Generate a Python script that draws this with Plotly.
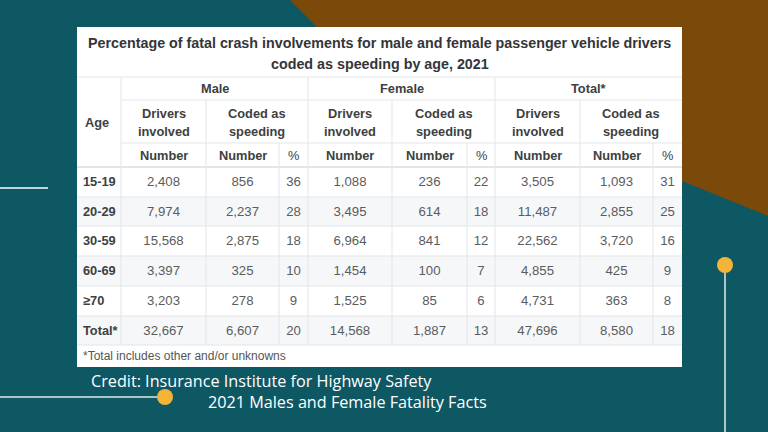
import plotly.graph_objects as go

# ---------------- data ----------------
title_lines = ["Percentage of fatal crash involvements for male and female passenger vehicle drivers",
               "coded as speeding by age, 2021"]
groups = ["Male", "Female", "Total*"]
age_groups = ["15-19", "20-29", "30-59", "60-69", "≥70", "Total*"]
male_drivers = ["2,408", "7,974", "15,568", "3,397", "3,203", "32,667"]
male_speeding = ["856", "2,237", "2,875", "325", "278", "6,607"]
male_pct = ["36", "28", "18", "10", "9", "20"]
female_drivers = ["1,088", "3,495", "6,964", "1,454", "1,525", "14,568"]
female_speeding = ["236", "614", "841", "100", "85", "1,887"]
female_pct = ["22", "18", "12", "7", "6", "13"]
total_drivers = ["3,505", "11,487", "22,562", "4,855", "4,731", "47,696"]
total_speeding = ["1,093", "2,855", "3,720", "425", "363", "8,580"]
total_pct = ["31", "25", "16", "9", "8", "18"]
footnote = "*Total includes other and/or unknowns"
credit_1 = "Credit: Insurance Institute for Highway Safety"
credit_2 = "2021 Males and Female Fatality Facts"

# ---------------- layout geometry (pixels) ----------------
W, H = 768, 432
TL, TR, TT, TB = 77, 682, 27, 367
col_edges = [77, 121, 206, 279, 308, 392, 467, 495, 580, 653, 682]
row_edges = [167, 197, 226, 256, 286, 316, 345]
TEAL = "#0e5864"
BROWN = "#7b4a0b"
YELLOW = "#f3b43a"
GRID = "#e3e5e8"

fig = go.Figure()

shapes = []
# brown corner
shapes.append(dict(type="path", path="M 290 0 L 768 0 L 768 216 L 682 181 L 330 40 Z",
                   fillcolor=BROWN, line=dict(width=0), layer="below"))
# table white box
shapes.append(dict(type="rect", x0=TL, x1=TR, y0=TT, y1=TB, fillcolor="white",
                   line=dict(width=0), layer="below"))
# striped rows
for i in range(len(age_groups)):
    if i % 2 == 1:
        shapes.append(dict(type="rect", x0=TL, x1=TR, y0=row_edges[i], y1=row_edges[i + 1],
                           fillcolor="#f6f7f9", line=dict(width=0), layer="below"))
# horizontal grid lines
def hline(y, x0=TL, x1=TR, w=1):
    shapes.append(dict(type="line", x0=x0, x1=x1, y0=y, y1=y, line=dict(color=GRID, width=w)))
hline(77)
hline(100, x0=121)
hline(143, x0=121)
hline(167, w=2)
for y in row_edges[1:]:
    hline(y)
# vertical grid lines
def vline(x, y0, y1=345):
    shapes.append(dict(type="line", x0=x, x1=x, y0=y0, y1=y1, line=dict(color=GRID, width=1)))
vline(121, 77)
vline(308, 77)
vline(495, 77)
for x in (206, 392, 580):
    vline(x, 100)
for x in (279, 467, 653):
    vline(x, 143)

# decorative lines and dots
shapes.append(dict(type="line", x0=0, x1=48, y0=188, y1=188, line=dict(color="white", width=1.5)))
shapes.append(dict(type="line", x0=0, x1=160, y0=397, y1=397, line=dict(color="#dfe9ea", width=1.5)))
shapes.append(dict(type="line", x0=725, x1=725, y0=265, y1=432, line=dict(color="#dfe9ea", width=1.5)))
shapes.append(dict(type="circle", x0=157, x1=173, y0=389, y1=405, fillcolor=YELLOW, line=dict(width=0)))
shapes.append(dict(type="circle", x0=717, x1=733, y0=257, y1=273, fillcolor=YELLOW, line=dict(width=0)))

fig.update_layout(shapes=shapes)

FONT = "Liberation Sans, Arial, sans-serif"
HEAD_C = "#3d3f42"
DATA_C = "#5a5c60"

annotations = []
def txt(x, y, s, size=13, color=DATA_C, bold=False, xanchor="center", family=FONT):
    annotations.append(dict(x=x, y=y, text=("<b>%s</b>" % s) if bold else s, showarrow=False,
                            xanchor=xanchor, yanchor="middle",
                            font=dict(size=size, color=color, family=family)))

# title
txt((TL + TR) / 2, 43, title_lines[0], size=14.3, color="#333538", bold=True)
txt((TL + TR) / 2, 64, title_lines[1], size=14.3, color="#333538", bold=True)
# header rows
txt(83, 122, "Age", size=12.8, color=HEAD_C, bold=True, xanchor="left")
group_spans = [(121, 308), (308, 495), (495, 682)]
for g, (a, b) in zip(groups, group_spans):
    txt((a + b) / 2, 88, g, size=12.8, color=HEAD_C, bold=True)
sub_spans = [(121, 206, 308), (308, 392, 495), (495, 580, 682)]
for a, m, b in sub_spans:
    txt((a + m) / 2, 113, "Drivers", size=12.8, color=HEAD_C, bold=True)
    txt((a + m) / 2, 131, "involved", size=12.8, color=HEAD_C, bold=True)
    txt((m + b) / 2, 113, "Coded as", size=12.8, color=HEAD_C, bold=True)
    txt((m + b) / 2, 131, "speeding", size=12.8, color=HEAD_C, bold=True)
num_cols = [(121, 206), (206, 279), (308, 392), (392, 467), (495, 580), (580, 653)]
for a, b in num_cols:
    txt((a + b) / 2, 155, "Number", size=12.8, color=HEAD_C, bold=True)
for a, b in [(279, 308), (467, 495), (653, 682)]:
    txt((a + b) / 2, 155, "%", size=12.8, color=HEAD_C)

# footnote + credits
txt(81, 356, footnote, size=12, color="#555", xanchor="left")
txt(89, 381, credit_1, size=16.2, color="white", xanchor="left", family="Open Sans, sans-serif")
txt(206, 402, credit_2, size=16.2, color="white", xanchor="left", family="Open Sans, sans-serif")
fig.update_layout(annotations=annotations)

# ---------------- table cells as text traces ----------------
row_centers = [(row_edges[i] + row_edges[i + 1]) / 2 + 1 for i in range(len(age_groups))]
fig.add_trace(go.Scatter(x=[83] * len(age_groups), y=row_centers, text=["<b>%s</b>" % a for a in age_groups],
                         mode="text", textposition="middle right",
                         textfont=dict(size=12.8, color=HEAD_C, family=FONT),
                         hoverinfo="skip", showlegend=False))
columns = [male_drivers, male_speeding, male_pct, female_drivers, female_speeding, female_pct,
           total_drivers, total_speeding, total_pct]
for ci, col in enumerate(columns):
    cx = (col_edges[ci + 1] + col_edges[ci + 2]) / 2
    fig.add_trace(go.Scatter(x=[cx] * len(col), y=row_centers, text=col, mode="text",
                             textposition="middle center",
                             textfont=dict(size=13.2, color=DATA_C, family=FONT),
                             hoverinfo="skip", showlegend=False))

fig.update_layout(width=W, height=H, margin=dict(l=0, r=0, t=0, b=0),
                  paper_bgcolor=TEAL, plot_bgcolor=TEAL,
                  xaxis=dict(range=[0, W], visible=False, fixedrange=True),
                  yaxis=dict(range=[H, 0], visible=False, fixedrange=True),
                  showlegend=False)
fig.write_html("out.html", config={"displayModeBar": False},
               post_script="document.body.style.margin='0';document.body.style.overflow='hidden';")
